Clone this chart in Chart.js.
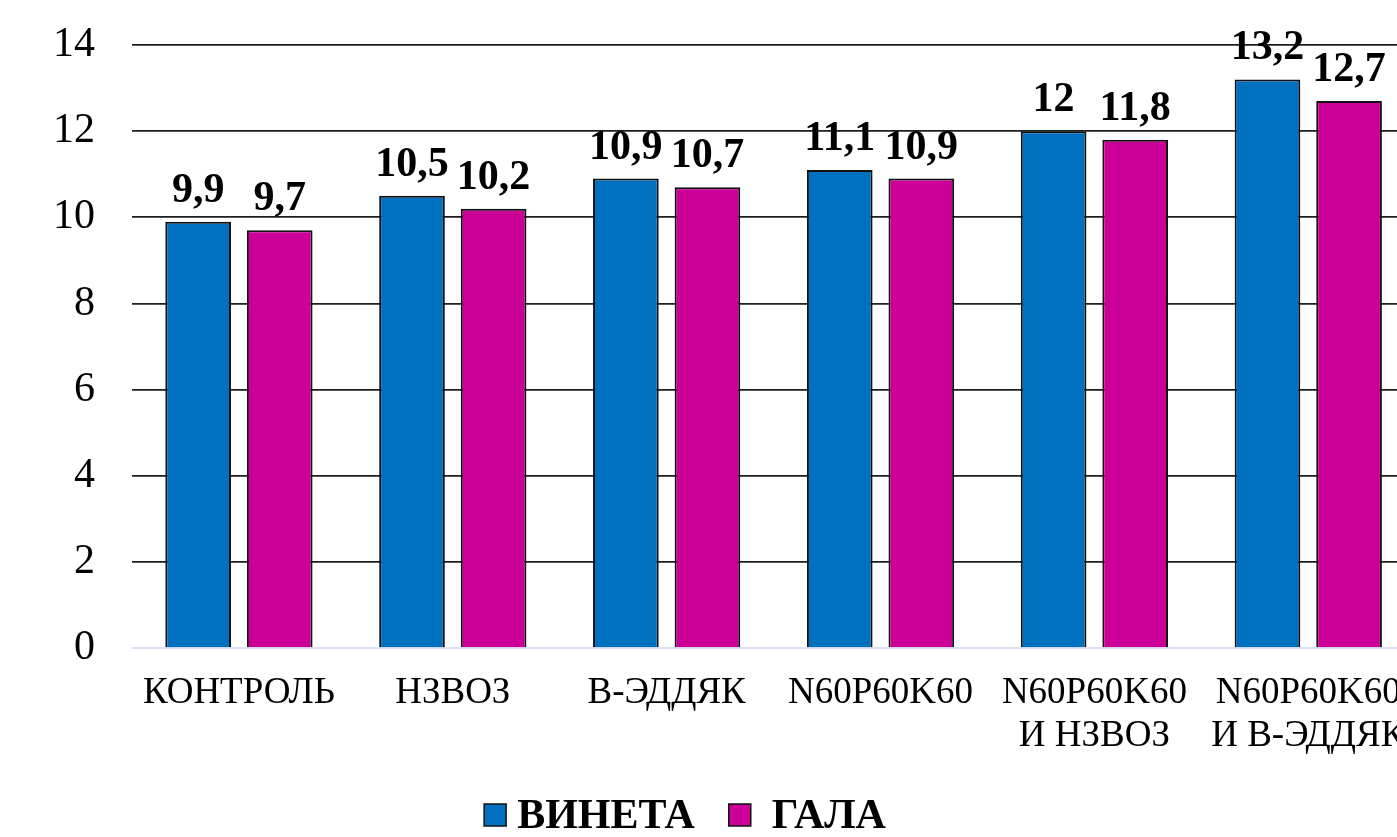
<!DOCTYPE html>
<html>
<head>
<meta charset="utf-8">
<script src="https://cdn.jsdelivr.net/npm/chart.js@4/dist/chart.umd.min.js"></script>
<style>
  html, body { margin: 0; padding: 0; background: #fff; }
  body { width: 1397px; height: 837px; overflow: hidden; position: relative; }
  #wrap { position: absolute; left: -60px; top: 0; width: 1490px; height: 837px; }
</style>
</head>
<body>
<div id="wrap"><canvas id="c" width="1490" height="837"></canvas></div>
<script>
const categories = [
  'КОНТРОЛЬ',
  'НЗВОЗ',
  'В-ЭДДЯК',
  'N60P60K60',
  ['N60P60K60', 'И НЗВОЗ'],
  ['N60P60K60', 'И В-ЭДДЯК']
];
const seriesNames = ['ВИНЕТА', 'ГАЛА'];
const vinetaValues = [9.9, 10.5, 10.9, 11.1, 12.0, 13.2];
const galaValues = [9.7, 10.2, 10.7, 10.9, 11.8, 12.7];
const yTicks = [0, 2, 4, 6, 8, 10, 12, 14];

const colors = ['#0070C0', '#CC0099'];
const serif = "'Liberation Serif', 'Times New Roman', serif";

const dataLabels = {
  id: 'dataLabels',
  afterDatasetsDraw(chart) {
    const ctx = chart.ctx;
    ctx.save();
    ctx.font = 'bold 42px ' + serif;
    ctx.fillStyle = '#000';
    ctx.textAlign = 'center';
    ctx.textBaseline = 'alphabetic';
    chart.data.datasets.forEach((ds, i) => {
      const meta = chart.getDatasetMeta(i);
      meta.data.forEach((bar, j) => {
        const txt = String(ds.data[j]).replace('.', ',');
        ctx.fillText(txt, bar.x, bar.y - 20);
      });
    });
    ctx.restore();
  }
};

const customLegend = {
  id: 'customLegend',
  afterDraw(chart) {
    const ctx = chart.ctx;
    ctx.save();
    ctx.font = 'bold 42px ' + serif;
    const box = 22, gapText = [11, 21], gapItem = 34;
    const items = chart.data.datasets.map(ds => ({ text: ds.label, color: ds.backgroundColor, w: ctx.measureText(ds.label).width }));
    let total = 0;
    items.forEach((it, k) => { total += box + gapText[k] + it.w + (k < items.length - 1 ? gapItem : 0); });
    let x = chart.width / 2 - total / 2;
    const cy = chart.height - 22;
    items.forEach((it, k) => {
      ctx.fillStyle = it.color;
      ctx.fillRect(x, cy - box / 2, box, box);
      ctx.lineWidth = 1.5;
      ctx.strokeStyle = '#111';
      ctx.strokeRect(x, cy - box / 2, box, box);
      x += box + gapText[k];
      ctx.fillStyle = '#000';
      ctx.textAlign = 'left';
      ctx.textBaseline = 'middle';
      ctx.fillText(it.text, x, cy + 2);
      x += it.w + gapItem;
    });
    ctx.restore();
  }
};

new Chart(document.getElementById('c'), {
  type: 'bar',
  data: {
    labels: categories,
    datasets: [
      { label: seriesNames[0], data: vinetaValues, backgroundColor: colors[0], borderColor: '#111', borderWidth: 2, barPercentage: 0.805, categoryPercentage: 0.763 },
      { label: seriesNames[1], data: galaValues, backgroundColor: colors[1], borderColor: '#111', borderWidth: 2, barPercentage: 0.805, categoryPercentage: 0.763 }
    ]
  },
  options: {
    responsive: false,
    animation: false,
    events: [],
    layout: { padding: { left: 114, right: 8, top: 45, bottom: 55 } },
    plugins: {
      legend: { display: false },
      tooltip: { enabled: false }
    },
    scales: {
      x: {
        grid: { display: false, drawTicks: false },
        border: { display: false },
        ticks: {
          autoSkip: false,
          maxRotation: 0,
          minRotation: 0,
          padding: 24,
          color: '#000',
          font: { family: serif, size: 37, lineHeight: 1.16 }
        }
      },
      y: {
        min: 0,
        max: 14,
        afterFit(scale) { scale.width = 78; scale.paddingTop = 0; scale.paddingBottom = 0; },
        afterBuildTicks(scale) { scale.ticks = yTicks.map(v => ({ value: v })); },
        grid: {
          drawTicks: false,
          color: ctx => ctx.tick && ctx.tick.value === 0 ? '#d9e1f2' : '#1e1e1e',
          lineWidth: ctx => ctx.tick && ctx.tick.value === 0 ? 2 : 1.8
        },
        border: { display: false },
        ticks: {
          padding: 37,
          color: '#000',
          font: { family: serif, size: 42 }
        }
      }
    }
  },
  plugins: [dataLabels, customLegend]
});
</script>
</body>
</html>
